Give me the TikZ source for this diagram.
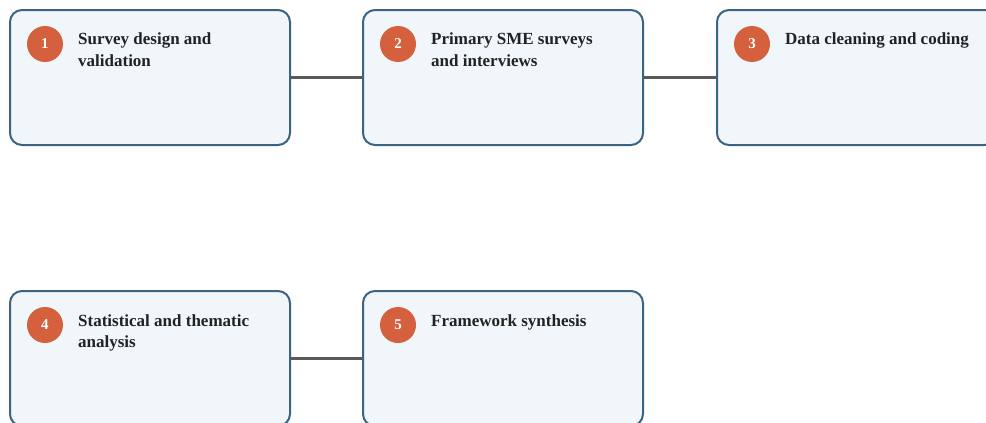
\documentclass[tikz,border=0pt]{standalone}
\usepackage{fontspec}
\setmainfont{Liberation Serif}
\definecolor{boxfill}{HTML}{F1F6FA}
\definecolor{boxline}{HTML}{3B6383}
\definecolor{badge}{HTML}{D4603D}
\definecolor{conn}{HTML}{5A5A5A}
\definecolor{txt}{HTML}{222222}
\tikzset{
  stepbox/.style={draw=boxline, fill=boxfill, line width=2pt, rounded corners=12pt,
    minimum width=280pt, minimum height=135pt, inner sep=0pt, outer sep=0pt},
  badgec/.style={circle, fill=badge, minimum size=36pt, inner sep=0pt,
    text=white, font=\bfseries\fontsize{15pt}{15pt}\selectfont},
  title/.style={anchor=base west, align=left, inner sep=0pt, text=txt,
    font=\bfseries\fontsize{17pt}{21pt}\selectfont},
  link/.style={draw=conn, line width=2.5pt}
}
\begin{document}
\begin{tikzpicture}[x=1pt,y=-1pt]
\useasboundingbox (0,0) rectangle (986,423);
\clip (0,0) rectangle (986,423);
% boxes
\node[stepbox] (b1) at (150,77.5) {};
\node[stepbox] (b2) at (503,77.5) {};
\node[stepbox] (b3) at (857,77.5) {};
\node[stepbox] (b4) at (150,358.5) {};
\node[stepbox] (b5) at (503,358.5) {};
% connectors
\draw[link] (b1.east) -- (b2.west);
\draw[link] (b2.east) -- (b3.west);
\draw[link] (b4.east) -- (b5.west);
% badges
\node[badgec] (c1) at (45,44) {1};
\node[badgec] (c2) at (398,44) {2};
\node[badgec] (c3) at (752,44) {3};
\node[badgec] (c4) at (45,325) {4};
\node[badgec] (c5) at (398,325) {5};
% titles (base anchor = baseline of last line)
\node[title] (t1) at (78,66) {Survey design and\\validation};
\node[title] (t2) at (431,66) {Primary SME surveys\\and interviews};
\node[title] (t3) at (785,45) {Data cleaning and coding};
\node[title] (t4) at (78,347) {Statistical and thematic\\analysis};
\node[title] (t5) at (431,326) {Framework synthesis};
\end{tikzpicture}
\end{document}
